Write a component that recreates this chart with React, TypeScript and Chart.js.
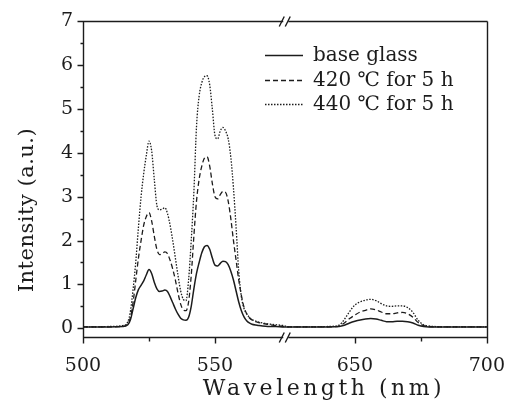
import React, { useEffect, useRef } from "react";
import { Chart, registerables } from "chart.js";
Chart.register(...registerables);

// Wavelength (nm)
const wavelengths = [
  500, 505, 510, 515, 517, 518, 519, 520, 521, 522, 523, 524, 525, 526, 527, 528, 529, 530,
  531, 532, 533, 534, 535, 536, 537, 538, 539, 540, 541, 542, 543, 544, 545, 546, 547, 548,
  549, 550, 551, 552, 553, 554, 555, 556, 557, 558, 559, 560, 561, 562, 563, 564, 566, 568,
  570, 573, 576, 625, 630, 640, 644, 646, 648, 650, 652, 654, 656, 658, 660, 662, 664, 666,
  668, 670, 672, 674, 676, 678, 680, 685, 690, 700,
];

const baseGlass = [
  0.03, 0.03, 0.03, 0.04, 0.08, 0.2, 0.45, 0.7, 0.88, 0.98, 1.08, 1.22, 1.34, 1.25, 1.05, 0.9, 0.84, 0.85,
  0.87, 0.84, 0.72, 0.58, 0.44, 0.32, 0.23, 0.19, 0.18, 0.25, 0.5, 0.9, 1.25, 1.5, 1.72, 1.86, 1.89, 1.8,
  1.6, 1.44, 1.42, 1.48, 1.53, 1.52, 1.45, 1.3, 1.1, 0.85, 0.6, 0.4, 0.26, 0.17, 0.12, 0.09, 0.07, 0.05,
  0.04, 0.04, 0.03, 0.03, 0.03, 0.03, 0.04, 0.07, 0.12, 0.16, 0.19, 0.21, 0.22, 0.21, 0.18, 0.15, 0.15, 0.16,
  0.16, 0.15, 0.12, 0.07, 0.04, 0.03, 0.03, 0.03, 0.03, 0.03,
];

const heat420 = [
  0.03, 0.03, 0.03, 0.04, 0.1, 0.25, 0.6, 1.1, 1.6, 2.0, 2.35, 2.55, 2.64, 2.45, 2.1, 1.8, 1.68, 1.7,
  1.74, 1.7, 1.55, 1.35, 1.1, 0.8, 0.55, 0.42, 0.4, 0.6, 1.2, 2.1, 2.9, 3.4, 3.7, 3.88, 3.91, 3.7,
  3.3, 3.0, 2.95, 3.05, 3.12, 3.1, 2.9, 2.5, 2.0, 1.55, 1.1, 0.75, 0.48, 0.33, 0.24, 0.19, 0.14, 0.11,
  0.09, 0.06, 0.04, 0.03, 0.03, 0.03, 0.05, 0.12, 0.22, 0.3, 0.37, 0.41, 0.44, 0.42, 0.37, 0.33, 0.33, 0.35,
  0.36, 0.33, 0.25, 0.13, 0.06, 0.04, 0.03, 0.03, 0.03, 0.03,
];

const heat440 = [
  0.03, 0.03, 0.04, 0.06, 0.15, 0.4, 0.9, 1.52, 2.3, 3.0, 3.53, 3.95, 4.27, 4.05, 3.4, 2.8, 2.7, 2.72,
  2.75, 2.62, 2.35, 2.0, 1.6, 1.2, 0.85, 0.66, 0.63, 1.1, 2.0, 3.1, 4.6, 5.3, 5.6, 5.74, 5.76, 5.55,
  5.0, 4.4, 4.32, 4.5, 4.58, 4.5, 4.32, 3.9, 3.2, 2.3, 1.3, 0.72, 0.45, 0.33, 0.25, 0.2, 0.15, 0.12,
  0.1, 0.08, 0.06, 0.03, 0.03, 0.04, 0.07, 0.2, 0.38, 0.53, 0.6, 0.64, 0.66, 0.63, 0.56, 0.51, 0.5, 0.51,
  0.51, 0.47, 0.36, 0.18, 0.08, 0.05, 0.04, 0.03, 0.03, 0.03,
];

const seriesLabels = ["base glass", "420 \u2103 for 5 h", "440 \u2103 for 5 h"];
const xMajorTicks = [500, 550, 650, 700];
const xMinorTicks = [525, 675];
const yMajorTicks = [0, 1, 2, 3, 4, 5, 6, 7];
const yMinorTicks = [0.5, 1.5, 2.5, 3.5, 4.5, 5.5, 6.5];
const breakStart = 577;
const breakEnd = 624;
const xTitle = "Wavelength (nm)";
const yTitle = "Intensity (a.u.)";

const GAP = breakEnd - breakStart;
const toAxis = (nm: number) => (nm <= breakStart ? nm : nm - GAP);
const fromAxis = (u: number) => (u <= breakStart ? u : u + GAP);

const INK = "#1c1c1c";
const FONT = "'DejaVu Serif', serif";

const framePlugin = {
  id: "frame",
  afterDraw(chart: any) {
    const { ctx, chartArea } = chart;
    const xs = chart.scales.x;
    const ys = chart.scales.y;
    const L = Math.round(chartArea.left) + 0.5;
    const R = Math.round(chartArea.right) + 0.5;
    const T = Math.round(chartArea.top) + 0.5;
    const B = Math.round(chartArea.bottom) + 0.5;
    ctx.save();
    ctx.strokeStyle = INK;
    ctx.lineWidth = 1.4;
    ctx.beginPath();
    ctx.moveTo(L, T);
    ctx.lineTo(R, T);
    ctx.moveTo(L, T);
    ctx.lineTo(L, B);
    ctx.moveTo(L, B);
    ctx.lineTo(R, B);
    ctx.moveTo(R, T);
    ctx.lineTo(R, B);
    yMajorTicks.forEach((v) => {
      const y = Math.round(ys.getPixelForValue(v)) + 0.5;
      ctx.moveTo(L - 6, y);
      ctx.lineTo(L, y);
    });
    yMinorTicks.forEach((v) => {
      const y = Math.round(ys.getPixelForValue(v)) + 0.5;
      ctx.moveTo(L - 3, y);
      ctx.lineTo(L, y);
    });
    xMajorTicks.forEach((v) => {
      const x = Math.round(xs.getPixelForValue(toAxis(v))) + 0.5;
      ctx.moveTo(x, B);
      ctx.lineTo(x, B + 6);
    });
    xMinorTicks.forEach((v) => {
      const x = Math.round(xs.getPixelForValue(toAxis(v))) + 0.5;
      ctx.moveTo(x, B);
      ctx.lineTo(x, B + 4);
    });
    ctx.stroke();

    // axis break marks
    const bx = xs.getPixelForValue(breakStart);
    [T, B].forEach((y) => {
      ctx.fillStyle = "#fff";
      ctx.fillRect(bx - 3, y - 1.5, 5, 3);
      ctx.beginPath();
      ctx.moveTo(bx - 7, y + 5);
      ctx.lineTo(bx - 2, y - 5);
      ctx.moveTo(bx - 1, y + 5);
      ctx.lineTo(bx + 4, y - 5);
      ctx.lineWidth = 1.4;
      ctx.stroke();
    });

    // legend
    ctx.font = `20px ${FONT}`;
    ctx.textBaseline = "middle";
    ctx.textAlign = "left";
    ctx.fillStyle = INK;
    const rows = [56, 81, 105];
    chart.data.datasets.forEach((ds: any, i: number) => {
      const y = rows[i] - 0.5;
      ctx.beginPath();
      ctx.setLineDash(ds.borderDash || []);
      ctx.lineWidth = ds.borderWidth;
      ctx.strokeStyle = ds.borderColor;
      ctx.moveTo(265, y);
      ctx.lineTo(303, y);
      ctx.stroke();
      ctx.setLineDash([]);
      ctx.fillText(ds.label, 313, rows[i]);
    });

    // axis titles
    ctx.textAlign = "center";
    ctx.textBaseline = "middle";
    ctx.font = `22px ${FONT}`;
    (ctx as any).letterSpacing = "3.5px";
    ctx.fillText(xTitle, 324, 389);
    ctx.font = `21px ${FONT}`;
    (ctx as any).letterSpacing = "0.5px";
    ctx.save();
    ctx.translate(28, 210);
    ctx.rotate(-Math.PI / 2);
    ctx.fillText(yTitle, 0, 0);
    ctx.restore();
    (ctx as any).letterSpacing = "0px";
    ctx.restore();
  },
};

export default function App() {
  const ref = useRef<HTMLCanvasElement | null>(null);
  useEffect(() => {
    document.body.style.margin = "0";
    const mk = (vals: number[]) => wavelengths.map((w, i) => ({ x: toAxis(w), y: vals[i] }));
    const chart = new Chart(ref.current!, {
      type: "line",
      data: {
        datasets: [
          { label: seriesLabels[0], data: mk(baseGlass), borderColor: INK, borderWidth: 1.5, borderDash: [] },
          { label: seriesLabels[1], data: mk(heat420), borderColor: INK, borderWidth: 1.3, borderDash: [5, 3] },
          { label: seriesLabels[2], data: mk(heat440), borderColor: INK, borderWidth: 1.3, borderDash: [1.5, 1.5] },
        ] as any,
      },
      options: {
        animation: false,
        responsive: false,
        events: [],
        layout: { padding: { top: 15, right: 30, left: 0, bottom: 0 } },
        elements: { point: { radius: 0 }, line: { cubicInterpolationMode: "monotone", fill: false } },
        plugins: { legend: { display: false }, tooltip: { enabled: false } },
        scales: {
          x: {
            type: "linear",
            min: 500,
            max: toAxis(700),
            grid: { display: false, drawTicks: false },
            border: { display: false },
            afterBuildTicks: (s: any) => {
              s.ticks = xMajorTicks.map((v) => ({ value: toAxis(v) }));
            },
            afterFit: (s: any) => {
              s.height = 75;
            },
            ticks: {
              padding: 18,
              maxRotation: 0,
              autoSkip: false,
              color: INK,
              font: { family: FONT, size: 19 },
              callback: (v: any) => String(Math.round(fromAxis(Number(v)))),
            },
          },
          y: {
            type: "linear",
            min: -0.2,
            max: 7,
            grid: { display: false, drawTicks: false },
            border: { display: false },
            afterBuildTicks: (s: any) => {
              s.ticks = yMajorTicks.map((v) => ({ value: v }));
            },
            afterFit: (s: any) => {
              s.width = 83;
            },
            ticks: {
              padding: 10,
              color: INK,
              font: { family: FONT, size: 19 },
              callback: (v: any) => String(v),
            },
          },
        },
      } as any,
      plugins: [framePlugin],
    });
    return () => chart.destroy();
  }, []);
  return <canvas ref={ref} width={523} height={412} style={{ display: "block" }} />;
}
